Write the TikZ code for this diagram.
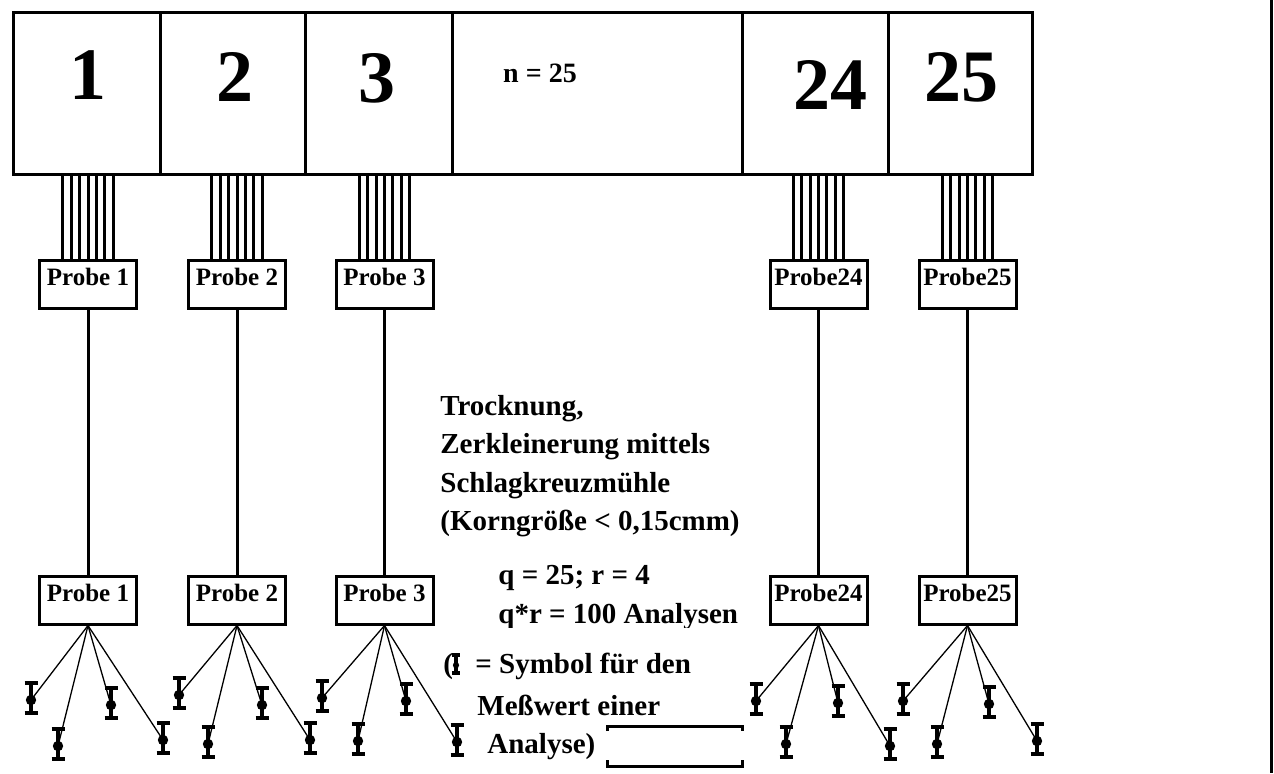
\documentclass[tikz,border=0pt]{standalone}
\usepackage{fontspec}
\setmainfont{Liberation Serif}
\usetikzlibrary{calc}
\tikzset{
  cellbox/.style={draw, line width=1.5pt, inner sep=0pt, minimum height=81pt},
  bignum/.style={inner sep=0pt, font=\fontsize{37}{40}\selectfont\bfseries},
  probebox/.style={draw, line width=1.5pt, inner sep=0pt, minimum width=48.5pt,
     text height=12.5pt, text depth=11.5pt, font=\fontsize{12.5}{14}\selectfont\bfseries},
  wire/.style={line width=1.5pt},
  link/.style={line width=1.5pt},
  fan/.style={line width=0.65pt},
  body/.style={inner sep=0pt, anchor=base west, font=\fontsize{14.5}{17}\selectfont\bfseries},
  ebar/.pic={
    \draw[line width=1.6pt] (0,-15) -- (0,15);
    \draw[line width=1.6pt] (-6.5,-15) -- (6.5,-15) (-6.5,15) -- (6.5,15);
    \fill (0,2) circle[radius=2.6pt];
    \coordinate (-c) at (0,2);
  }
}
\begin{document}
\begin{tikzpicture}[x=0.5pt,y=-0.5pt]
\useasboundingbox (0,0) rectangle (1274,773);
% top band
\node[cellbox, minimum width=73.5pt] (c1) at (86.5,93.5) {};
\node[cellbox, minimum width=72.5pt] (c2) at (232.5,93.5) {};
\node[cellbox, minimum width=73.5pt] (c3) at (378.5,93.5) {};
\node[cellbox, minimum width=145pt] (cn) at (597,93.5) {};
\node[cellbox, minimum width=73pt] (c24) at (815,93.5) {};
\node[cellbox, minimum width=72pt] (c25) at (960,93.5) {};
\node[bignum] (l1) at (88,75) {1};
\node[bignum] (l2) at (235,77) {2};
\node[bignum] (l3) at (377,78) {3};
\node[bignum] (l24) at (830,85) {24};
\node[bignum] (l25) at (961,77) {25};
\node[inner sep=0pt, font=\fontsize{14}{16}\selectfont\bfseries] (ln) at (540,73) {n = 25};
% probe boxes
\foreach \n/\x/\t in {1/88/Probe 1, 2/237/Probe 2, 3/384.5/Probe 3, 24/818.5/Probe24, 25/967.5/Probe25}{
  \node[probebox, minimum height=24pt] (pa\n) at (\x,284.5) {\t};
  \node[probebox, minimum height=23.5pt] (pb\n) at (\x,600) {\t};
  \draw[link] (pa\n.south) -- (pb\n.north);
  \foreach \d in {-3,...,3}{
    \draw[wire] ($(pa\n.north)+(\d*4.17pt,0)$) -- ($(pa\n.north |- c\n.south)+(\d*4.17pt,0)$);
  }
}
% error bars
\foreach \n/\a/\b/\c/\d/\e/\f/\g/\h in {
  1/31/698/58/744/111/703/163/738,
  2/179/693/208/742/262/703/310/738,
  3/322/696/358/739/406/699/457/740,
  24/756/699/786/742/838/701/890/744,
  25/903/699/937/742/989/702/1037/739}{
  \pic (e\n a) at (\a,\b) {ebar};
  \pic (e\n b) at (\c,\d) {ebar};
  \pic (e\n c) at (\e,\f) {ebar};
  \pic (e\n d) at (\g,\h) {ebar};
  \foreach \k in {a,b,c,d}{
    \draw[fan] (pb\n.south) -- (e\n\k-c);
  }
}
% text block
\node[body] (t1) at (440,415) {Trocknung,};
\node[body] (t2) at (440,453) {Zerkleinerung mittels};
\node[body] (t3) at (440,492) {Schlagkreuzmühle};
\node[body] (t4) at (440,530) {(Korngröße < 0,15cmm)};
\node[body] (q1) at (498,584) {q = 25; r = 4};
\begin{scope}
\clip (480,590) rectangle (780,627);
\node[body] (q2) at (498,623) {q*r = 100 Analysen};
\end{scope}
\node[body] (g0) at (443,673) {(};
\pic[scale=0.6] (gs) at (456,664) {ebar};
\node[body] (g1) at (475,673) {= Symbol für den};
\node[body] (g2) at (477,715) {Meßwert einer};
\node[body] (g3) at (487,753) {Analyse)};
\draw[line width=1.5pt] (607,731) -- (607,726) -- (742,726) -- (742,731);
\draw[line width=1.5pt] (607,760) -- (607,766) -- (742,766) -- (742,760);
% right edge line
\draw[line width=1.5pt] (1271,0) -- (1271,773);
\end{tikzpicture}
\end{document}
